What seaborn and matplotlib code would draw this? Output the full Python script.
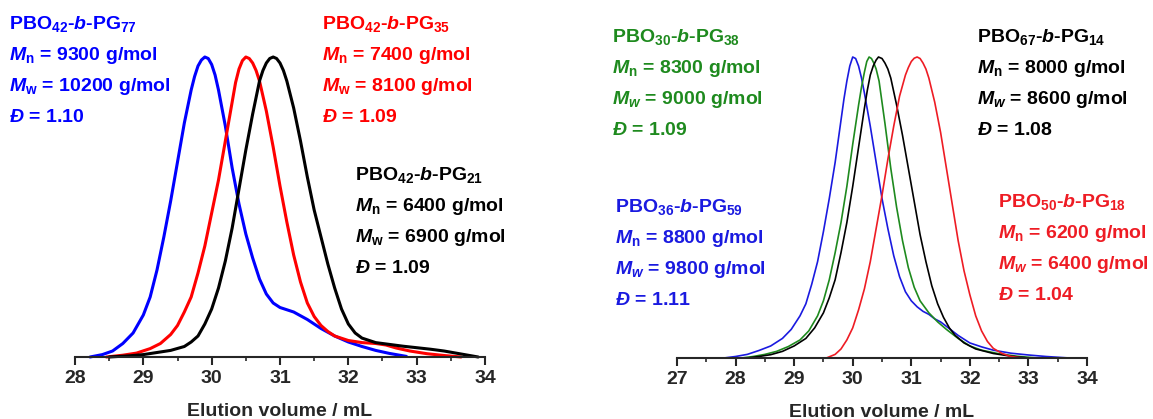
import pandas as pd
import seaborn as sns
import matplotlib.pyplot as plt
from matplotlib.ticker import MultipleLocator

# ---------- DATA (normalised RI signal) ----------
# left panel: PBO42-b-PG(x) series
left_blue_x = [28.22, 28.40, 28.55, 28.70, 28.85, 29.00, 29.10, 29.20, 29.30, 29.40, 29.50, 29.60,
               29.70, 29.75, 29.80, 29.85, 29.90, 29.95, 30.00, 30.05, 30.10, 30.20, 30.30, 30.40,
               30.50, 30.60, 30.70, 30.80, 30.90, 31.00, 31.20, 31.40, 31.60, 31.80, 32.00, 32.20,
               32.40, 32.60, 32.85]
left_blue_y = [0.0, 0.008, 0.02, 0.045, 0.08, 0.14, 0.20, 0.29, 0.40, 0.52, 0.65, 0.78,
               0.89, 0.935, 0.97, 0.99, 1.0, 0.995, 0.975, 0.94, 0.89, 0.77, 0.63, 0.51,
               0.41, 0.33, 0.26, 0.21, 0.18, 0.165, 0.15, 0.125, 0.095, 0.07, 0.05, 0.035,
               0.022, 0.012, 0.002]

left_red_x = [28.46, 28.70, 28.90, 29.10, 29.25, 29.40, 29.50, 29.60, 29.70, 29.80, 29.90, 30.00,
              30.10, 30.20, 30.30, 30.35, 30.40, 30.45, 30.50, 30.55, 30.60, 30.65, 30.70, 30.80,
              30.90, 31.00, 31.10, 31.20, 31.30, 31.40, 31.50, 31.60, 31.70, 31.80, 32.00, 32.20,
              32.40, 32.55, 32.70, 32.90, 33.15, 33.40, 33.65]
left_red_y = [0.0, 0.006, 0.013, 0.028, 0.045, 0.075, 0.105, 0.15, 0.20, 0.28, 0.37, 0.48,
              0.59, 0.72, 0.85, 0.915, 0.96, 0.988, 1.0, 0.995, 0.98, 0.955, 0.92, 0.82,
              0.70, 0.57, 0.45, 0.34, 0.25, 0.18, 0.135, 0.105, 0.085, 0.07, 0.055, 0.048,
              0.045, 0.04, 0.03, 0.02, 0.011, 0.005, 0.0]

left_black_x = [28.50, 28.80, 29.00, 29.20, 29.40, 29.60, 29.70, 29.80, 29.90, 30.00, 30.10, 30.20,
                30.30, 30.40, 30.50, 30.60, 30.70, 30.75, 30.80, 30.85, 30.90, 30.95, 31.00, 31.05,
                31.10, 31.20, 31.30, 31.40, 31.50, 31.60, 31.70, 31.80, 31.90, 32.00, 32.10, 32.20,
                32.40, 32.60, 32.80, 33.00, 33.20, 33.40, 33.60, 33.90]
left_black_y = [0.0, 0.004, 0.008, 0.015, 0.022, 0.035, 0.05, 0.07, 0.11, 0.16, 0.23, 0.32,
                0.43, 0.56, 0.69, 0.81, 0.92, 0.955, 0.98, 0.995, 1.0, 0.995, 0.98, 0.955,
                0.92, 0.83, 0.72, 0.60, 0.49, 0.40, 0.31, 0.23, 0.16, 0.11, 0.08, 0.063,
                0.048, 0.042, 0.036, 0.031, 0.026, 0.02, 0.012, 0.0]

# right panel
right_blue_x = [27.80, 28.00, 28.20, 28.40, 28.60, 28.80, 28.95, 29.10, 29.20, 29.30, 29.40, 29.50,
                29.60, 29.70, 29.80, 29.85, 29.90, 29.95, 30.00, 30.05, 30.10, 30.15, 30.20, 30.30,
                30.40, 30.50, 30.60, 30.70, 30.80, 30.90, 31.00, 31.10, 31.20, 31.30, 31.40, 31.50,
                31.60, 31.70, 31.80, 32.00, 32.20, 32.40, 32.70, 33.00, 33.30, 33.70]
right_blue_y = [0.0, 0.005, 0.012, 0.025, 0.04, 0.065, 0.095, 0.14, 0.18, 0.245, 0.32, 0.42,
                0.53, 0.65, 0.79, 0.86, 0.92, 0.97, 1.0, 0.995, 0.97, 0.93, 0.88, 0.77,
                0.65, 0.53, 0.43, 0.34, 0.27, 0.22, 0.19, 0.17, 0.155, 0.145, 0.13, 0.12,
                0.105, 0.09, 0.075, 0.05, 0.037, 0.026, 0.016, 0.01, 0.005, 0.0]

right_green_x = [28.10, 28.30, 28.50, 28.70, 28.90, 29.10, 29.25, 29.40, 29.50, 29.60, 29.70, 29.80,
                 29.90, 30.00, 30.10, 30.15, 30.20, 30.24, 30.28, 30.32, 30.36, 30.40, 30.45, 30.55,
                 30.65, 30.75, 30.85, 30.95, 31.05, 31.15, 31.30, 31.45, 31.60, 31.80, 32.00, 32.20,
                 32.50, 32.80, 33.15]
right_green_y = [0.0, 0.005, 0.012, 0.022, 0.038, 0.06, 0.09, 0.14, 0.19, 0.26, 0.35, 0.45,
                 0.57, 0.71, 0.84, 0.90, 0.95, 0.985, 1.0, 0.995, 0.98, 0.96, 0.92, 0.78,
                 0.63, 0.50, 0.39, 0.30, 0.235, 0.19, 0.15, 0.12, 0.095, 0.065, 0.04, 0.026,
                 0.014, 0.006, 0.0]

right_black_x = [28.20, 28.40, 28.60, 28.80, 29.00, 29.20, 29.35, 29.50, 29.60, 29.70, 29.80, 29.90,
                 30.00, 30.10, 30.20, 30.25, 30.30, 30.35, 30.40, 30.44, 30.50, 30.55, 30.60, 30.65,
                 30.75, 30.85, 30.95, 31.05, 31.15, 31.25, 31.35, 31.45, 31.55, 31.65, 31.75, 31.90,
                 32.10, 32.40, 32.70, 33.00]
right_black_y = [0.0, 0.005, 0.011, 0.022, 0.04, 0.065, 0.10, 0.15, 0.20, 0.26, 0.35, 0.45,
                 0.57, 0.70, 0.83, 0.89, 0.94, 0.97, 0.99, 1.0, 0.995, 0.98, 0.96, 0.93,
                 0.84, 0.74, 0.63, 0.52, 0.41, 0.32, 0.24, 0.18, 0.135, 0.10, 0.075, 0.05,
                 0.03, 0.015, 0.006, 0.0]

right_red_x = [29.55, 29.70, 29.80, 29.90, 30.00, 30.10, 30.20, 30.30, 30.40, 30.50, 30.60, 30.70,
               30.80, 30.90, 30.95, 31.00, 31.05, 31.10, 31.15, 31.20, 31.25, 31.30, 31.40, 31.50,
               31.60, 31.70, 31.80, 31.90, 32.00, 32.10, 32.20, 32.30, 32.40, 32.55, 32.70, 32.90]
right_red_y = [0.0, 0.012, 0.03, 0.06, 0.10, 0.16, 0.23, 0.32, 0.43, 0.54, 0.66, 0.77,
               0.87, 0.94, 0.965, 0.985, 0.996, 1.0, 0.995, 0.98, 0.96, 0.93, 0.85, 0.75,
               0.63, 0.51, 0.39, 0.29, 0.21, 0.14, 0.09, 0.055, 0.032, 0.015, 0.005, 0.0]

left_series = {"PG77": (left_blue_x, left_blue_y), "PG35": (left_red_x, left_red_y),
               "PG21": (left_black_x, left_black_y)}
left_colors = {"PG77": "#0000ff", "PG35": "#ff0000", "PG21": "#000000"}

right_series = {"PG59": (right_blue_x, right_blue_y), "PG38": (right_green_x, right_green_y),
                "PG14": (right_black_x, right_black_y), "PG18": (right_red_x, right_red_y)}
right_colors = {"PG59": "#1a1ae0", "PG38": "#1e8a1e", "PG14": "#000000", "PG18": "#ee1c24"}

# annotation blocks: (x px, first baseline px, colour, lines)
left_notes = [
    (9, 29, "#0000ff", [r"PBO$_{42}$-$\mathit{b}$-PG$_{77}$", r"$\mathit{M}_{n}$ = 9300 g/mol",
                        r"$\mathit{M}_{w}$ = 10200 g/mol", r"$\mathit{Đ}$ = 1.10"]),
    (322, 29, "#ff0000", [r"PBO$_{42}$-$\mathit{b}$-PG$_{35}$", r"$\mathit{M}_{n}$ = 7400 g/mol",
                          r"$\mathit{M}_{w}$ = 8100 g/mol", r"$\mathit{Đ}$ = 1.09"]),
    (355, 180, "#000000", [r"PBO$_{42}$-$\mathit{b}$-PG$_{21}$", r"$\mathit{M}_{n}$ = 6400 g/mol",
                           r"$\mathit{M}_{w}$ = 6900 g/mol", r"$\mathit{Đ}$ = 1.09"]),
]
right_notes = [
    (612, 42, "#1e8a1e", [r"PBO$_{30}$-$\mathit{b}$-PG$_{38}$", r"$\mathit{M}_{n}$ = 8300 g/mol",
                          r"$\mathit{M}_{\mathit{w}}$ = 9000 g/mol", r"$\mathit{Đ}$ = 1.09"]),
    (977, 42, "#000000", [r"PBO$_{67}$-$\mathit{b}$-PG$_{14}$", r"$\mathit{M}_{n}$ = 8000 g/mol",
                          r"$\mathit{M}_{\mathit{w}}$ = 8600 g/mol", r"$\mathit{Đ}$ = 1.08"]),
    (615, 212, "#1a1ae0", [r"PBO$_{36}$-$\mathit{b}$-PG$_{59}$", r"$\mathit{M}_{n}$ = 8800 g/mol",
                           r"$\mathit{M}_{\mathit{w}}$ = 9800 g/mol", r"$\mathit{Đ}$ = 1.11"]),
    (998, 207, "#ee1c24", [r"PBO$_{50}$-$\mathit{b}$-PG$_{18}$", r"$\mathit{M}_{n}$ = 6200 g/mol",
                           r"$\mathit{M}_{\mathit{w}}$ = 6400 g/mol", r"$\mathit{Đ}$ = 1.04"]),
]


def to_long(series):
    rows = []
    for name, (xs, ys) in series.items():
        for x, y in zip(xs, ys):
            rows.append({"volume": x, "signal": y, "sample": name})
    return pd.DataFrame(rows)


# ---------- STYLE ----------
sns.set_style("ticks")
plt.rcParams["font.family"] = ["Liberation Sans", "DejaVu Sans"]
plt.rcParams["font.weight"] = "bold"
plt.rcParams["mathtext.fontset"] = "custom"
plt.rcParams["mathtext.rm"] = "Liberation Sans:bold"
plt.rcParams["mathtext.bf"] = "Liberation Sans:bold"
plt.rcParams["mathtext.it"] = "Liberation Sans:bold:italic"
plt.rcParams["mathtext.default"] = "rm"

W, H = 1153, 419
fig = plt.figure(figsize=(W / 100, H / 100), dpi=100)
ax_l = fig.add_axes([75 / W, 1 - 357 / H, 410 / W, 300 / H])
ax_r = fig.add_axes([677 / W, 1 - 358 / H, 410 / W, 301 / H])

panels = [
    (ax_l, to_long(left_series), left_colors, (28, 34), 2.2),
    (ax_r, to_long(right_series), right_colors, (27, 34), 1.2),
]

for ax, df, colors, xlim, lw in panels:
    sns.lineplot(data=df, x="volume", y="signal", hue="sample", palette=colors,
                 estimator=None, sort=False, linewidth=lw, legend=False, ax=ax)
    for ln in ax.lines:
        ln.set_clip_on(False)
    ax.set_xlim(*xlim)
    ax.set_ylim(0, 1.0)
    for s in ["left", "top", "right"]:
        ax.spines[s].set_visible(False)
    ax.spines["bottom"].set_linewidth(1.5)
    ax.set_yticks([])
    ax.set_ylabel("")
    ax.xaxis.set_major_locator(MultipleLocator(1))
    ax.xaxis.set_minor_locator(MultipleLocator(0.5))
    ax.tick_params(axis="x", which="major", direction="out", length=6, width=1.5,
                   labelsize=14, pad=3)
    ax.tick_params(axis="x", which="minor", direction="out", length=3, width=1.2)
    for t in ax.get_xticklabels():
        t.set_fontweight("bold")
    ax.set_xlabel("Elution volume / mL", fontsize=14, fontweight="bold", labelpad=12)

for x0, y0, col, lines in left_notes + right_notes:
    for i, txt in enumerate(lines):
        fig.text(x0 / W, 1 - (y0 + 31 * i) / H, txt, color=col, fontsize=14,
                 fontweight="bold", ha="left", va="baseline")

fig.savefig("out.png", dpi=100)
